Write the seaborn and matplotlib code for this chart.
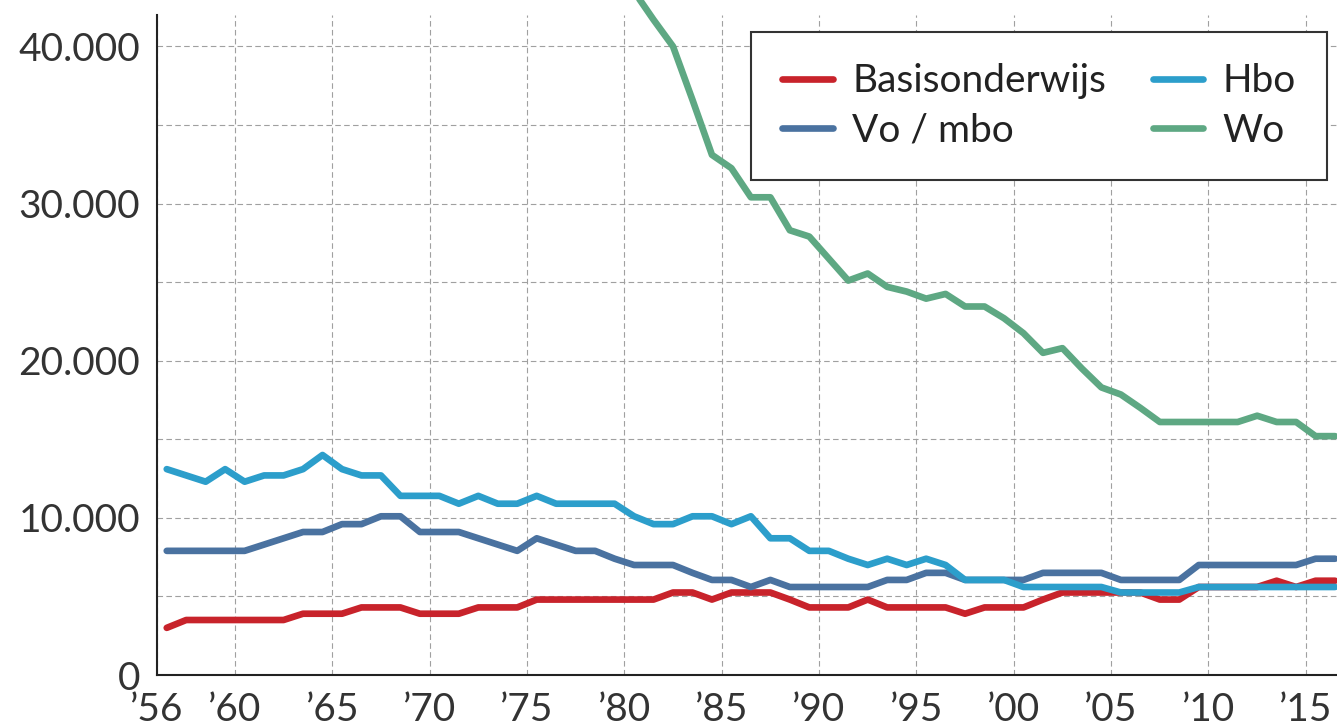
import matplotlib
matplotlib.use("Agg")
import matplotlib.pyplot as plt
import numpy as np
import pandas as pd
import seaborn as sns

jaren = list(range(1956, 2017))

basisonderwijs = [3000, 3500, 3500, 3500, 3500, 3500, 3500, 3900, 3900, 3900,
                  4300, 4300, 4300, 3900, 3900, 3900, 4300, 4300, 4300, 4800,
                  4800, 4800, 4800, 4800, 4800, 4800, 5250, 5250, 4800, 5250,
                  5250, 5250, 4800, 4300, 4300, 4300, 4800, 4300, 4300, 4300,
                  4300, 3900, 4300, 4300, 4300, 4800, 5250, 5250, 5250, 5250,
                  5250, 4800, 4800, 5600, 5600, 5600, 5600, 6000, 5600, 6000,
                  6000]

vo_mbo = [7900, 7900, 7900, 7900, 7900, 8300, 8700, 9100, 9100, 9600,
          9600, 10100, 10100, 9100, 9100, 9100, 8700, 8300, 7900, 8700,
          8300, 7900, 7900, 7400, 7000, 7000, 7000, 6500, 6050, 6050,
          5600, 6050, 5600, 5600, 5600, 5600, 5600, 6050, 6050, 6500,
          6500, 6050, 6050, 6050, 6050, 6500, 6500, 6500, 6500, 6050,
          6050, 6050, 6050, 7000, 7000, 7000, 7000, 7000, 7000, 7400,
          7400]

hbo = [13100, 12700, 12300, 13100, 12300, 12700, 12700, 13100, 14000, 13100,
       12700, 12700, 11400, 11400, 11400, 10900, 11400, 10900, 10900, 11400,
       10900, 10900, 10900, 10900, 10100, 9600, 9600, 10100, 10100, 9600,
       10100, 8700, 8700, 7900, 7900, 7400, 7000, 7400, 7000, 7400,
       7000, 6050, 6050, 6050, 5600, 5600, 5600, 5600, 5600, 5250,
       5250, 5250, 5250, 5600, 5600, 5600, 5600, 5600, 5600, 5600,
       5600]

wo = [np.nan] * 24 + [43500, 41700, 40000, 36600, 33100, 32250, 30400, 30400,
                      28300, 27900, 26500, 25100, 25550, 24700, 24400, 23950,
                      24250, 23450, 23450, 22700, 21750, 20500, 20800, 19500,
                      18300, 17850, 17000, 16100, 16100, 16100, 16100, 16100,
                      16500, 16100, 16100, 15200, 15200]

namen = ['Basisonderwijs', 'Vo / mbo', 'Hbo', 'Wo']
kleuren = {'Basisonderwijs': '#c8232b', 'Vo / mbo': '#4a72a0',
           'Hbo': '#2c9ecb', 'Wo': '#5ea883'}

df = pd.DataFrame({'jaar': jaren, 'Basisonderwijs': basisonderwijs,
                   'Vo / mbo': vo_mbo, 'Hbo': hbo, 'Wo': wo})
df = df.melt(id_vars='jaar', var_name='soort', value_name='aantal')
df = df.dropna()
# punten midden in het jaar
df['x'] = df['jaar'] + 0.5

sns.set_style('white')
plt.rcParams['font.family'] = ['Lato', 'DejaVu Sans']

fig = plt.figure(figsize=(13.37, 7.26), dpi=100)
ax = fig.add_axes([157 / 1337, 51 / 726, 1 - 157 / 1337, 660 / 726])

sns.lineplot(data=df, x='x', y='aantal', hue='soort', hue_order=namen,
             palette=kleuren, linewidth=4.8, estimator=None, ax=ax)
for l in ax.lines:
    l.set_clip_on(False)
    l.set_solid_joinstyle('round')

ax.set_xlim(1956, 2016.6)
ax.set_ylim(0, 42000)

xticks = [1956] + list(range(1960, 2016, 5))
ax.set_xticks(xticks)
ax.set_xticklabels(['\u2019' + str(j)[2:] for j in xticks])
ax.set_yticks([0, 10000, 20000, 30000, 40000])
ax.set_yticklabels(['0', '10.000', '20.000', '30.000', '40.000'])
ax.set_yticks([5000, 15000, 25000, 35000], minor=True)

ax.tick_params(axis='both', which='both', length=0, labelsize=28,
               labelcolor='#333333')
ax.tick_params(axis='y', pad=12)
ax.tick_params(axis='x', pad=12)

ax.grid(True, which='both', color='#a0a0a0', linestyle=(0, (5, 3)),
        linewidth=0.8)
ax.set_axisbelow(True)

ax.set_xlabel('')
ax.set_ylabel('')
for s in ['top', 'right']:
    ax.spines[s].set_visible(False)
for s in ['left', 'bottom']:
    ax.spines[s].set_color('#222222')
    ax.spines[s].set_linewidth(1.5)

leg = ax.legend(ncol=2, loc='upper right', bbox_to_anchor=(0.9915, 0.974),
                borderaxespad=0, fontsize=28, frameon=True, fancybox=False,
                handlelength=1.3, handletextpad=0.5, columnspacing=1.2,
                labelspacing=0.35, borderpad=0.8)
leg.get_frame().set_edgecolor('#333333')
leg.get_frame().set_linewidth(1.5)
leg.get_frame().set_alpha(1)
for t in leg.get_texts():
    t.set_color('#222222')
for h in leg.legend_handles:
    h.set_linewidth(4.8)

plt.savefig('out.png', dpi=100)
